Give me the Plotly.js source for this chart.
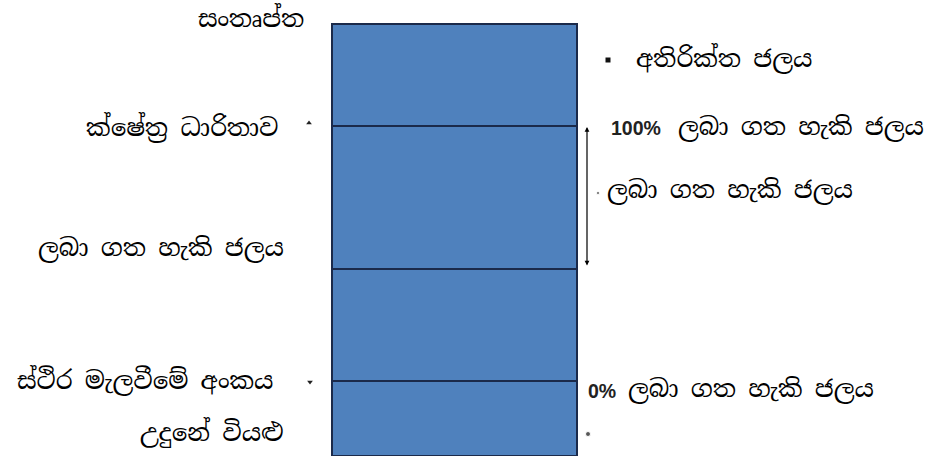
<!DOCTYPE html>
<html>
<head>
<meta charset="utf-8">
<script src="https://cdn.plot.ly/plotly-3.0.1.min.js"></script>
<style>html,body{margin:0;padding:0;background:#fff;}#chart{width:928px;height:456px;}</style>
</head>
<body>
<div id="chart"></div>
<script>
// Soil water column: layer thicknesses from bottom (oven dry) to top (saturation)
const layerNames = ["oven-dry to wilting point", "wilting point to mid", "mid to field capacity", "field capacity to saturation"];
const layerValues = [75, 112, 143, 102];
// level labels (left side), from top to bottom
const leftLabels = ["සංතෘප්ත", "ක්ෂේත්‍ර ධාරිතාව", "ලබා ගත හැකි ජලය", "ස්ථිර මැලවීමේ අංකය", "උදුනේ වියළු"];
// right side labels
const rightLabels = ["අතිරික්ත ජලය", "ලබා ගත හැකි ජලය", "ලබා ගත හැකි ජලය", "ලබා ගත හැකි ජලය"];
const pctLabels = ["100%", "0%"];

const SIN = "'Noto Serif Sinhala','Noto Sans Sinhala','Iskoola Pota','Noto Sans',sans-serif";
const LAT = "'Liberation Sans',Arial,sans-serif";
const colX = 454.5, colW = 245;

// cumulative levels
const levels = [0];
layerValues.forEach(v => levels.push(levels[levels.length - 1] + v));
const lvTop = levels[4], lvFC = levels[3], lvMid = levels[2], lvPWP = levels[1];

const traces = layerValues.map((v, i) => ({
  type: 'bar', x: [colX], y: [v], width: [colW], name: layerNames[i],
  marker: {color: '#4F81BD', line: {color: '#1B2A4A', width: 1.5}},
  hoverinfo: 'skip', showlegend: false
}));

// small bullet markers
traces.push({type: 'scatter', mode: 'markers', x: [309], y: [lvFC + 3], marker: {symbol: 'triangle-up', size: 5, color: '#222'}, showlegend: false, hoverinfo: 'skip'});
traces.push({type: 'scatter', mode: 'markers', x: [310], y: [lvPWP - 1], marker: {symbol: 'triangle-down', size: 5, color: '#222'}, showlegend: false, hoverinfo: 'skip'});
traces.push({type: 'scatter', mode: 'markers', x: [608], y: [396], marker: {symbol: 'square', size: 5, color: '#111'}, showlegend: false, hoverinfo: 'skip'});
traces.push({type: 'scatter', mode: 'markers', x: [598, 588], y: [263, 22], marker: {symbol: 'circle', size: [3, 5], color: '#111'}, showlegend: false, hoverinfo: 'skip'});

const sinFont = {family: SIN, size: 24.5, color: '#000'};
const ann = [];
function addText(t, x, y, xanchor, font) {
  ann.push({text: t, x: x, y: y, xref: 'x', yref: 'y', xanchor: xanchor, yanchor: 'middle', showarrow: false, font: font || sinFont});
}
addText(leftLabels[0], 306, lvTop + 6, 'right');
addText(leftLabels[1], 281, lvFC - 1, 'right');
addText(leftLabels[2], 286, lvMid + 21, 'right');
addText(leftLabels[3], 276, lvPWP + 1, 'right');
addText(leftLabels[4], 286, 24, 'right');

addText(rightLabels[0], 634, 398, 'left');
addText('<b>' + pctLabels[0] + '</b>', 609, lvFC - 2, 'left', {family: LAT, size: 19.5, color: '#222'});
addText(rightLabels[1], 676, lvFC - 1, 'left');
addText(rightLabels[2], 605, 266, 'left');
addText('<b>' + pctLabels[1] + '</b>', 586, lvPWP - 10, 'left', {family: LAT, size: 19.5, color: '#222'});
addText(rightLabels[3], 626, lvPWP - 8, 'left');

// double-headed arrow for available water
ann.push({x: 587, y: lvFC - 1, ax: 587, ay: lvMid + 2, xref: 'x', yref: 'y', axref: 'x', ayref: 'y',
  text: '', showarrow: true, arrowhead: 2, startarrowhead: 2, arrowside: 'end+start',
  arrowsize: 0.8, startarrowsize: 0.8, arrowwidth: 1.2, arrowcolor: '#000'});

const layout = {
  width: 928, height: 456,
  margin: {l: 0, r: 0, t: 0, b: 0},
  paper_bgcolor: '#fff', plot_bgcolor: '#fff',
  barmode: 'stack', showlegend: false,
  xaxis: {range: [0, 928], visible: false, fixedrange: true},
  yaxis: {range: [0, 456], visible: false, fixedrange: true},
  annotations: ann
};
Plotly.newPlot('chart', traces, layout, {displayModeBar: false, staticPlot: true});
</script>
</body>
</html>
